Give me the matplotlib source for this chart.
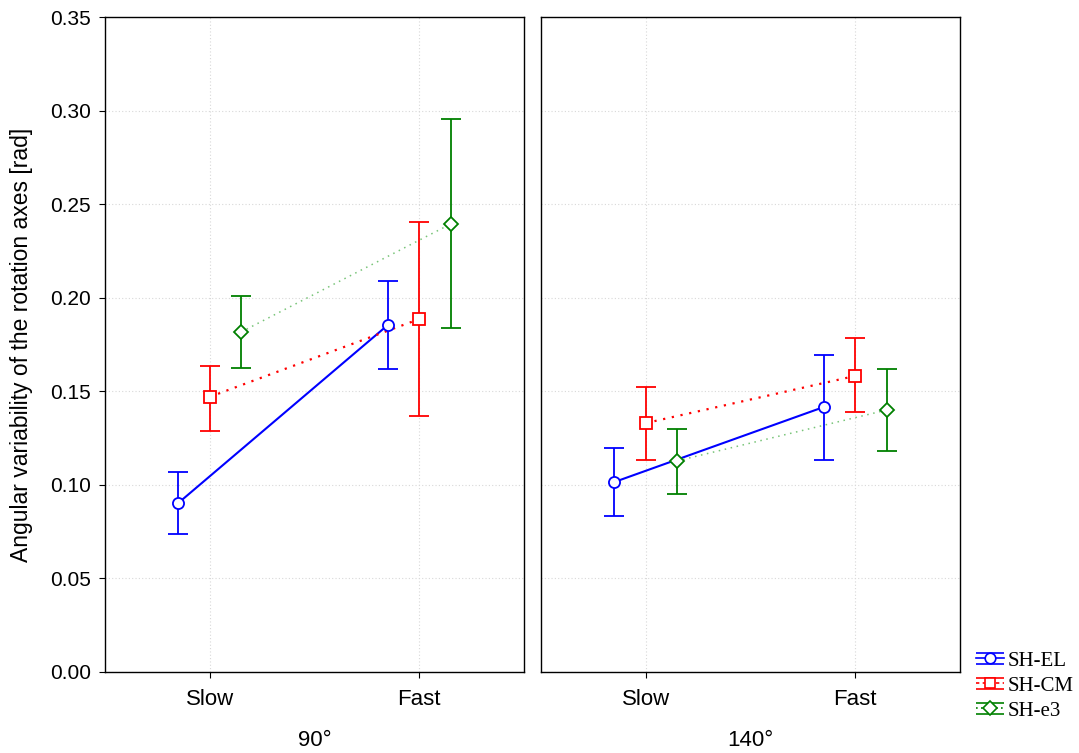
import matplotlib
matplotlib.use("Agg")
import matplotlib.pyplot as plt
from matplotlib.container import ErrorbarContainer
from matplotlib.legend_handler import HandlerErrorbar
import numpy as np

categories = ["Slow", "Fast"]
panels = ["90°", "140°"]
series = ["SH-EL", "SH-CM", "SH-e3"]

# values per panel [90°, 140°], each [Slow, Fast]
el_mean = [[0.0903, 0.1854], [0.1015, 0.1416]]
el_low = [[0.0737, 0.1620], [0.0834, 0.1133]]
el_high = [[0.1069, 0.2090], [0.1197, 0.1694]]

cm_mean = [[0.1470, 0.1886], [0.1330, 0.1582]]
cm_low = [[0.1288, 0.1368], [0.1133, 0.1389]]
cm_high = [[0.1635, 0.2405], [0.1523, 0.1785]]

e3_mean = [[0.1817, 0.2394], [0.1128, 0.1400]]
e3_low = [[0.1624, 0.1838], [0.0951, 0.1181]]
e3_high = [[0.2009, 0.2955], [0.1298, 0.1619]]

plt.rcParams['font.family'] = ['Liberation Sans', 'DejaVu Sans']

fig = plt.figure(figsize=(10.79, 7.53), dpi=100)
axL = fig.add_axes([0.0973, 0.1076, 0.3883, 0.8698])
axR = fig.add_axes([0.5014, 0.1076, 0.3883, 0.8698])

styles = [
    dict(mean=el_mean, low=el_low, high=el_high, color="#0000ff", marker="o", ls="-", lw=1.5,
         lcolor="#0000ff", off=-0.15, ms=8, lls="-"),
    dict(mean=cm_mean, low=cm_low, high=cm_high, color="#ff0000", marker="s", ls=(0, (1, 3)), lw=1.6,
         lcolor="#ff0000", off=0.0, ms=8, lls=(0, (2, 2))),
    dict(mean=e3_mean, low=e3_low, high=e3_high, color="#008000", marker="D", ls=(0, (1, 3)), lw=1.1,
         lcolor="#78c478", off=0.15, ms=7.2, lls=(0, (1, 2))),
]

x = np.arange(len(categories))
handles = []
for pi, ax in enumerate([axL, axR]):
    for si, st in enumerate(styles):
        m = np.array(st["mean"][pi])
        lo = m - np.array(st["low"][pi])
        hi = np.array(st["high"][pi]) - m
        xs = x + st["off"]
        ax.plot(xs, m, linestyle=st["ls"], color=st["lcolor"], lw=st["lw"], zorder=2)
        ax.errorbar(xs, m, yerr=[lo, hi], fmt=st["marker"], color=st["color"],
                    mfc="white", mec=st["color"], ms=st["ms"], mew=1.3,
                    elinewidth=1.3, capsize=7.5, capthick=1.3, zorder=3)
        if pi == 0:
            h = ax.errorbar([np.nan], [np.nan], yerr=[[0.0], [0.0]], fmt=st["marker"],
                            linestyle=st["lls"], color=st["color"], mfc="white",
                            mec=st["color"], ms=st["ms"] * 0.95, mew=1.2, elinewidth=1.3,
                            lw=1.2, capsize=10, capthick=1.3, label=series[si])
            handles.append(h)
    ax.set_xlim(-0.5, 1.5)
    ax.set_ylim(0, 0.35)
    ax.set_yticks(np.arange(0, 0.351, 0.05))
    ax.set_xticks(x)
    ax.set_xticklabels(categories, fontsize=16)
    ax.grid(True, color="#d8d8d8", linestyle=(0, (1, 2)), lw=0.8)
    ax.set_axisbelow(True)
    ax.tick_params(direction="out", length=4, pad=6)
    ax.tick_params(axis="y", labelsize=15)
    ax.tick_params(axis="x", labelsize=16, pad=8)
    ax.set_xlabel(panels[pi], fontsize=16, labelpad=15)
    for s in ax.spines.values():
        s.set_linewidth(1.0)

axL.yaxis.set_major_formatter(matplotlib.ticker.FormatStrFormatter("%.2f"))
axR.tick_params(axis="y", labelleft=False, length=0)
axL.set_ylabel("Angular variability of the rotation axes [rad]", fontsize=16.5, labelpad=12)

leg = fig.legend(handles=handles, labels=series, loc="lower left",
                 bbox_to_anchor=(0.9045, 0.043), frameon=False,
                 prop={"family": "Liberation Serif", "size": 15},
                 handlelength=1.35, handletextpad=0.15, borderaxespad=0, borderpad=0,
                 labelspacing=0.26,
                 handler_map={ErrorbarContainer: HandlerErrorbar(yerr_size=0.27)})

fig.savefig("out.png", dpi=100)
